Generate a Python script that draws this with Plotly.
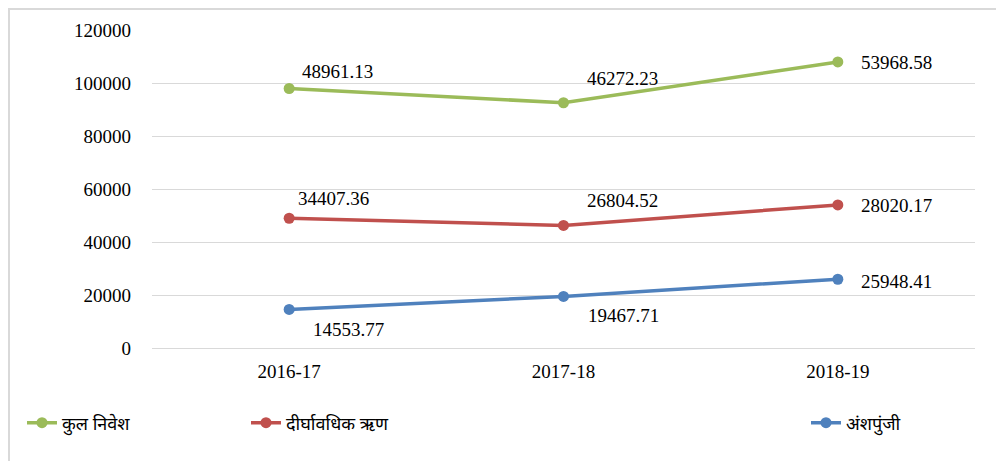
import numpy as np
import plotly.graph_objects as go

categories = ["2016-17", "2017-18", "2018-19"]
equity = [14553.77, 19467.71, 25948.41]          # अंशपुंजी
long_term_loan = [34407.36, 26804.52, 28020.17]  # दीर्घावधिक ऋण
total_investment = [48961.13, 46272.23, 53968.58]  # कुल निवेश
y_ticks = [0, 20000, 40000, 60000, 80000, 100000, 120000]

series_names = ["अंशपुंजी", "दीर्घावधिक ऋण", "कुल निवेश"]
series_values = [equity, long_term_loan, total_investment]
colors = ["#4F81BD", "#C0504D", "#9BBB59"]
legend_ids = ["legend3", "legend2", "legend"]

# label offsets (px) per series, per point
label_shifts = [
    [(22, -20), (22, -19), (21, -2)],
    [(7, 20), (21, 25), (21, -1)],
    [(11, 17), (21, 24), (21, -1)],
]

fig = go.Figure()
cum = np.cumsum(np.array(series_values), axis=0)
annotations = []
for i, (name, vals, col, lg) in enumerate(zip(series_names, series_values, colors, legend_ids)):
    fig.add_trace(go.Scatter(
        x=categories, y=vals, name=name, mode="lines+markers",
        stackgroup="one", fill="none",
        line=dict(color=col, width=3.5),
        marker=dict(color=col, size=11),
        legend=lg,
    ))
    for j, c in enumerate(categories):
        dx, dy = label_shifts[i][j]
        annotations.append(dict(
            x=c, y=cum[i][j], xref="x", yref="y", text=f"{vals[j]:.2f}",
            showarrow=False, xanchor="left", yanchor="middle",
            xshift=dx, yshift=dy,
            font=dict(family="Liberation Serif", size=19, color="#000000"),
        ))

# page body adds 8px offset; figure coords = screen coords - 8
W, H = 996, 453
ml, mr, mt, mb = 144, 29, 22, 113
pw, ph = W - ml - mr, H - mt - mb

def px_x(p):
    return (p - ml) / pw

def px_y(p):
    return (H - mb - p) / ph

legend_common = dict(orientation="h", yanchor="middle", xanchor="left",
                     bgcolor="rgba(0,0,0,0)",
                     font=dict(family="Noto Sans", size=18, color="#000000"),
                     itemwidth=30)

fig.update_layout(
    width=W, height=H,
    margin=dict(l=ml, r=mr, t=mt, b=mb),
    paper_bgcolor="white", plot_bgcolor="white",
    showlegend=True,
    legend=dict(x=px_x(14), y=px_y(415), **legend_common),
    legend2=dict(x=px_x(238), y=px_y(415), **legend_common),
    legend3=dict(x=px_x(798), y=px_y(415), **legend_common),
    annotations=annotations,
    xaxis=dict(
        type="category", range=[-0.5, 2.5],
        showgrid=False, zeroline=False, showline=False,
        ticks="", ticklabelstandoff=10,
        tickfont=dict(family="Liberation Serif", size=19, color="#000000"),
    ),
    yaxis=dict(
        range=[0, 120000], tickvals=y_ticks,
        ticktext=[str(v) for v in y_ticks],
        showgrid=True, gridcolor="#D9D9D9", gridwidth=1,
        zeroline=True, zerolinecolor="#D9D9D9", zerolinewidth=1,
        showline=False, ticks="", ticklabelstandoff=20,
        tickfont=dict(family="Liberation Serif", size=19, color="#000000"),
    ),
    shapes=[dict(
        type="rect", xref="paper", yref="paper",
        x0=px_x(1), x1=px_x(1000), y0=px_y(460), y1=px_y(1),
        line=dict(color="#D9D9D9", width=2), fillcolor="rgba(0,0,0,0)",
        layer="below",
    )],
)

fig.write_html("out.html")
